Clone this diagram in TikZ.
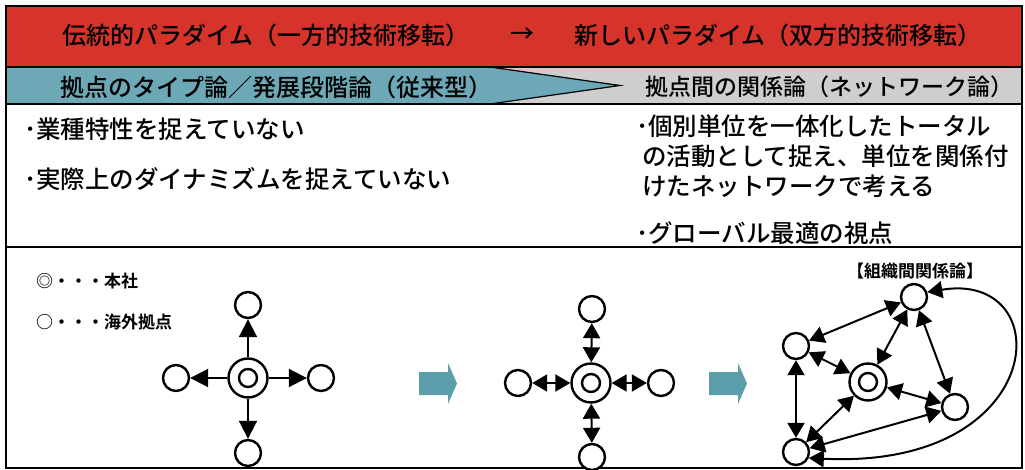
\documentclass[tikz,border=0pt]{standalone}
\usepackage{fontspec}
\setmainfont{Noto Sans CJK JP}[BoldFont={Noto Sans CJK JP Bold}]
\newfontfamily\jpm{Noto Sans CJK JP Medium}
\usetikzlibrary{arrows.meta}
\definecolor{bandred}{RGB}{214,52,42}
\definecolor{bandteal}{RGB}{108,168,182}
\definecolor{bandgray}{RGB}{206,206,206}
\definecolor{arrteal}{RGB}{92,158,170}
\tikzset{
  head/.style={font=\jpm\fontsize{24}{28}\selectfont, inner sep=0pt, anchor=west},
  body/.style={font=\jpm\fontsize{24.5}{28}\selectfont, inner sep=0pt, anchor=west},
  legend/.style={font=\bfseries\fontsize{17}{20}\selectfont, inner sep=0pt, anchor=west},
  site/.style={circle, draw, line width=2.4pt, minimum size=26pt, inner sep=0pt, fill=white},
  hq/.style={circle, draw, line width=2.4pt, minimum size=39pt, inner sep=0pt, fill=white},
  hqin/.style={circle, draw, line width=2.4pt, minimum size=18pt, inner sep=0pt},
  bigtip/.tip={Triangle[length=18pt,width=18pt]},
  smalltip/.tip={Triangle[length=15pt,width=17pt]},
  one/.style={line width=2pt, -bigtip},
  two/.style={line width=2pt, smalltip-smalltip},
  blockarrow/.style={fill=arrteal, draw=none}
}
\begin{document}
\begin{tikzpicture}[x=1pt,y=-1pt]
\useasboundingbox (0,0) rectangle (1025,470);
% bands
\fill[white] (0,0) rectangle (1025,470);
\fill[bandred] (6,6) rectangle (1022,67);
\fill[bandgray] (6,67) rectangle (1022,104);
\fill[bandteal, draw=black, line width=1.2pt] (6,67) -- (490,67) -- (620,85.5) -- (490,104) -- (6,104) -- cycle;
\draw[line width=1.5pt] (6,6) rectangle (1022,468);
\draw[line width=1.5pt] (6,67) -- (1022,67);
\draw[line width=1.5pt] (6,104) -- (1022,104);
\draw[line width=1.5pt] (6,247) -- (1022,247);
% band texts
\node[head] (h1) at (62,35) {伝統的パラダイム（一方的技術移転）};
\node[head] (h2) at (510,35) {→};
\node[head] (h3) at (574,35) {新しいパラダイム（双方的技術移転）};
\node[head] (s1) at (60,87) {拠点のタイプ論／発展段階論（従来型）};
\node[head, font=\jpm\fontsize{23}{28}\selectfont] (s2) at (645,87) {拠点間の関係論（ネットワーク論）};
% body texts
\node[body] (b1) at (24,129) {･業種特性を捉えていない};
\node[body] (b2) at (24,179) {･実際上のダイナミズムを捉えていない};
\node[body] (b3) at (636,126) {･個別単位を一体化したトータル};
\node[body] (b4) at (642,156) {の活動として捉え、単位を関係付};
\node[body] (b5) at (642,186) {けたネットワークで考える};
\node[body] (b6) at (636,233) {･グローバル最適の視点};
% legend
\node[legend] (l1) at (36,281) {◎・・・本社};
\node[legend] (l2) at (36,322) {○・・・海外拠点};
% left star
\node[hq] (a0) at (248,378) {};
\node[hqin] (a0i) at (248,378) {};
\node[site] (a1) at (248,305) {};
\node[site] (a2) at (176,378) {};
\node[site] (a3) at (321,378) {};
\node[site] (a4) at (248,453) {};
\draw[one] (a0) -- (a1);
\draw[one] (a0) -- (a2);
\draw[one] (a0) -- (a3);
\draw[one] (a0) -- (a4);
% block arrows
\fill[blockarrow] (419,372) -- (448,372) -- (448,363) -- (457,383.5) -- (448,404) -- (448,395) -- (419,395) -- cycle;
\fill[blockarrow] (709,372) -- (738,372) -- (738,363) -- (747,383.5) -- (738,404) -- (738,395) -- (709,395) -- cycle;
% middle star
\node[hq] (m0) at (591,383) {};
\node[hqin] (m0i) at (591,383) {};
\node[site] (m1) at (592,309) {};
\node[site] (m2) at (518,383) {};
\node[site] (m3) at (661,383) {};
\node[site] (m4) at (592,457) {};
\draw[two] (m0) -- (m1);
\draw[two] (m0) -- (m2);
\draw[two] (m0) -- (m3);
\draw[two] (m0) -- (m4);
% network
\node[legend, anchor=center] (nl) at (915,271) {【組織間関係論】};
\node[site] (T) at (914,297) {};
\node[site] (L) at (796,346) {};
\node[hq, minimum size=37pt] (C) at (868,382) {};
\node[hqin] (Ci) at (868,382) {};
\node[site] (R) at (955,407) {};
\node[site] (B) at (796,452) {};
\draw[two] (T) -- (L);
\draw[two] (T) -- (C);
\draw[two] (T) -- (R);
\draw[two] (L) -- (C);
\draw[two] (C) -- (R);
\draw[two] (C) -- (B);
\draw[two] (R) -- (B);
\draw[two] (L) -- (B);
\draw[two] (T.20) .. controls (1060,270) and (1050,470) .. (B.-25);
\end{tikzpicture}
\end{document}
